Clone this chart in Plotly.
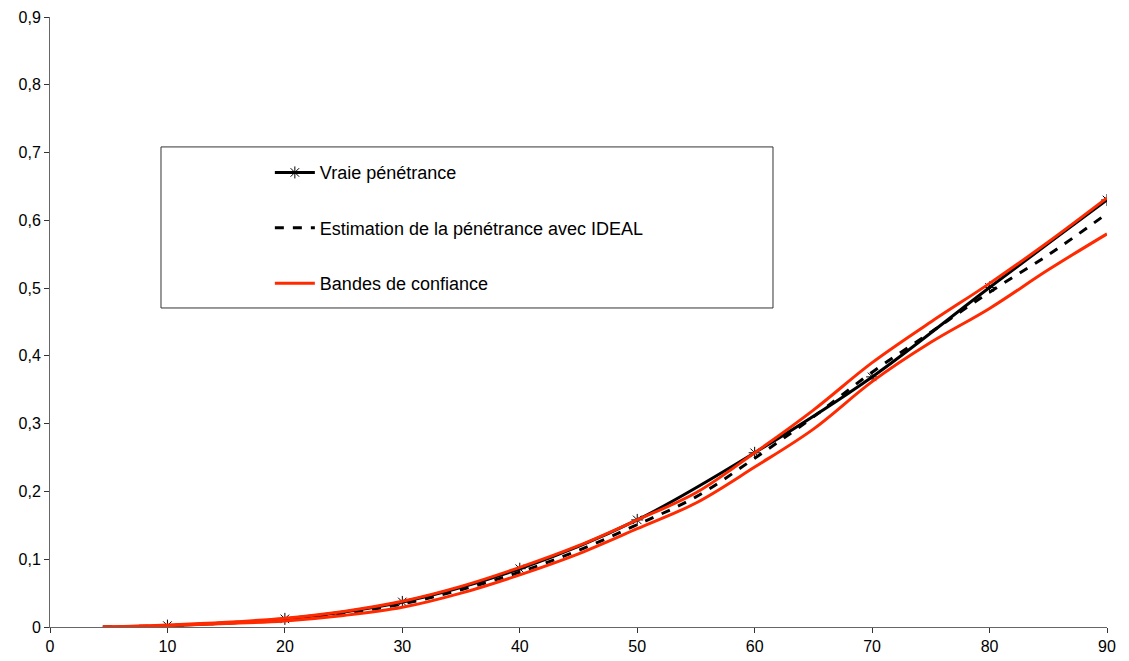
import plotly.graph_objects as go

# ---- data ----
ages_true = [10, 20, 30, 40, 50, 60, 70, 80, 90]
vraie = [0.002, 0.012, 0.037, 0.086, 0.158, 0.257, 0.369, 0.501, 0.630]

ages = [4.5, 10, 15, 20, 25, 30, 35, 40, 45, 50, 55, 60, 65, 70, 75, 80, 85, 90]
estimation = [0.0, 0.002, 0.006, 0.011, 0.020, 0.034, 0.055, 0.081, 0.113, 0.151, 0.192, 0.249, 0.310, 0.376, 0.435, 0.494, 0.549, 0.610]
bande_sup = [0.0, 0.003, 0.007, 0.013, 0.023, 0.038, 0.060, 0.088, 0.120, 0.158, 0.198, 0.257, 0.320, 0.390, 0.450, 0.507, 0.568, 0.633]
bande_inf = [0.0, 0.002, 0.005, 0.009, 0.017, 0.029, 0.050, 0.077, 0.108, 0.145, 0.183, 0.236, 0.292, 0.362, 0.420, 0.470, 0.527, 0.580]

x_ticks = [0, 10, 20, 30, 40, 50, 60, 70, 80, 90]
y_ticks = [0, 0.1, 0.2, 0.3, 0.4, 0.5, 0.6, 0.7, 0.8, 0.9]

RED = "#ff2a00"
FONT = "Liberation Sans, Arial, sans-serif"

fig = go.Figure()

fig.add_trace(go.Scatter(
    x=ages_true, y=vraie, name="Vraie pénétrance", mode="lines+markers",
    line=dict(color="black", width=3, shape="spline"),
    marker=dict(symbol="asterisk-open", size=10, color="black", line=dict(color="black", width=1)),
    legendgroup="a",
))
fig.add_trace(go.Scatter(
    x=ages, y=estimation, name="Estimation de la pénétrance avec IDEAL", mode="lines",
    line=dict(color="black", width=3, dash="dash", shape="spline"),
    legendgroup="b",
))
fig.add_trace(go.Scatter(
    x=ages, y=bande_sup, name="Bandes de confiance", mode="lines",
    line=dict(color=RED, width=3, shape="spline"),
    legendgroup="c",
))
fig.add_trace(go.Scatter(
    x=ages, y=bande_inf, name="Bandes de confiance", mode="lines",
    line=dict(color=RED, width=3, shape="spline"),
    legendgroup="c", showlegend=False,
))

fig.update_layout(
    width=1129, height=661,
    margin=dict(l=50, r=22, t=17, b=34),
    paper_bgcolor="white", plot_bgcolor="white",
    separators=", ",
    font=dict(family=FONT, size=16, color="black"),
    showlegend=True,
    legend=dict(
        x=0.208, y=0.775, xanchor="left", yanchor="top",
        bgcolor="rgba(0,0,0,0)", borderwidth=0,
        font=dict(family=FONT, size=18, color="black"),
        tracegroupgap=29, itemwidth=40,
    ),
    shapes=[dict(
        type="rect", xref="paper", yref="paper",
        x0=0.105, x1=0.684, y0=0.523, y1=0.787,
        line=dict(color="#333333", width=1), fillcolor="white", layer="below",
    )],
)

fig.update_xaxes(
    range=[0, 90], tickvals=x_ticks, ticks="outside", ticklen=5,
    showline=True, linecolor="#666666", linewidth=1, tickcolor="#333333",
    showgrid=False, zeroline=False, tickfont=dict(size=16), automargin=False,
)
fig.update_yaxes(
    range=[0, 0.9], tickvals=y_ticks, ticks="outside", ticklen=5,
    showline=True, linecolor="#666666", linewidth=1, tickcolor="#333333",
    showgrid=False, zeroline=False, tickfont=dict(size=16), automargin=False,
)

fig.write_html("out.html", config={"displayModeBar": False},
               post_script="document.body.style.margin='0';")
